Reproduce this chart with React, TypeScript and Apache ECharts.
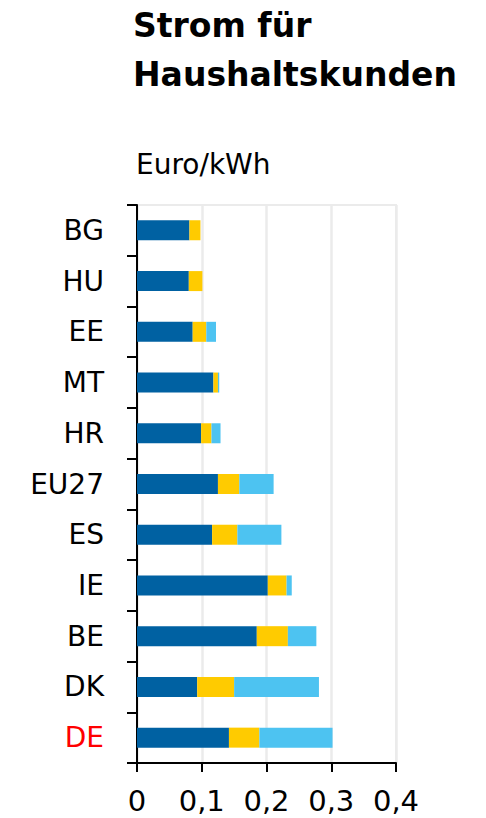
import React, { useEffect, useRef } from "react";
import * as echarts from "echarts";

const categories = ["BG", "HU", "EE", "MT", "HR", "EU27", "ES", "IE", "BE", "DK", "DE"];
const energySupply = [0.081, 0.080, 0.086, 0.118, 0.099, 0.125, 0.116, 0.202, 0.185, 0.093, 0.142];
const networkCosts = [0.017, 0.021, 0.021, 0.007, 0.016, 0.033, 0.039, 0.029, 0.048, 0.057, 0.047];
const taxesLevies = [0, 0, 0.015, 0.002, 0.014, 0.053, 0.068, 0.008, 0.044, 0.131, 0.113];
const xMin = 0;
const xMax = 0.4;
const xInterval = 0.1;

const titleText = "Strom für\nHaushaltskunden";
const unitText = "Euro/kWh";
const highlightCategory = "DE";

const FONT = "DejaVu Sans";

export default function App() {
  const ref = useRef<HTMLDivElement>(null);
  useEffect(() => {
    if (!ref.current) return;
    const chart = echarts.init(ref.current, null, { renderer: "svg" });
    const option: any = {
      animation: false,
      backgroundColor: "#ffffff",
      title: {
        text: titleText,
        left: 128,
        top: -4,
        textStyle: {
          fontFamily: FONT,
          fontSize: 33,
          fontWeight: "bold",
          lineHeight: 49,
          color: "#000000",
        },
      },
      graphic: [
        {
          type: "text",
          x: 136,
          y: 164,
          style: {
            text: unitText,
            fontFamily: FONT,
            fontSize: 28,
            fill: "#000000",
            verticalAlign: "middle",
          },
        },
      ],
      grid: {
        left: 137,
        right: 90,
        top: 205,
        bottom: 55,
        show: true,
        borderColor: "#EBEBEB",
        borderWidth: 2,
      },
      xAxis: {
        type: "value",
        min: xMin,
        max: xMax,
        interval: xInterval,
        axisLine: { show: true, lineStyle: { color: "#000000", width: 2 } },
        axisTick: { show: true, length: 9, lineStyle: { color: "#000000", width: 2 } },
        splitLine: { show: true, lineStyle: { color: "#EBEBEB", width: 2.5 } },
        axisLabel: {
          margin: 23,
          fontFamily: FONT,
          fontSize: 29,
          color: "#000000",
          formatter: (v: number) => (v === 0 ? "0" : v.toFixed(1).replace(".", ",")),
        },
      },
      yAxis: {
        type: "category",
        inverse: true,
        data: categories,
        axisLine: { show: true, lineStyle: { color: "#000000", width: 2 } },
        axisTick: { show: true, length: 10, lineStyle: { color: "#000000", width: 2 } },
        splitLine: { show: false },
        axisLabel: {
          margin: 33,
          fontFamily: FONT,
          fontSize: 28,
          color: "#000000",
          formatter: (v: string) => (v === highlightCategory ? `{hl|${v}}` : v),
          rich: {
            hl: { color: "#FF0000", fontFamily: FONT, fontSize: 28 },
          },
        },
      },
      series: [
        {
          name: "Energiebeschaffung und Vertrieb",
          type: "bar",
          stack: "total",
          barWidth: 20,
          itemStyle: { color: "#0061A2" },
          data: energySupply,
        },
        {
          name: "Netzentgelte",
          type: "bar",
          stack: "total",
          barWidth: 20,
          itemStyle: { color: "#FFCB00" },
          data: networkCosts,
        },
        {
          name: "Steuern und Abgaben",
          type: "bar",
          stack: "total",
          barWidth: 20,
          itemStyle: { color: "#4DC3F1" },
          data: taxesLevies,
        },
      ],
    };
    chart.setOption(option);
    return () => chart.dispose();
  }, []);
  return (
    <div
      ref={ref}
      style={{ position: "fixed", left: 0, top: 0, width: 486, height: 818 }}
    />
  );
}
